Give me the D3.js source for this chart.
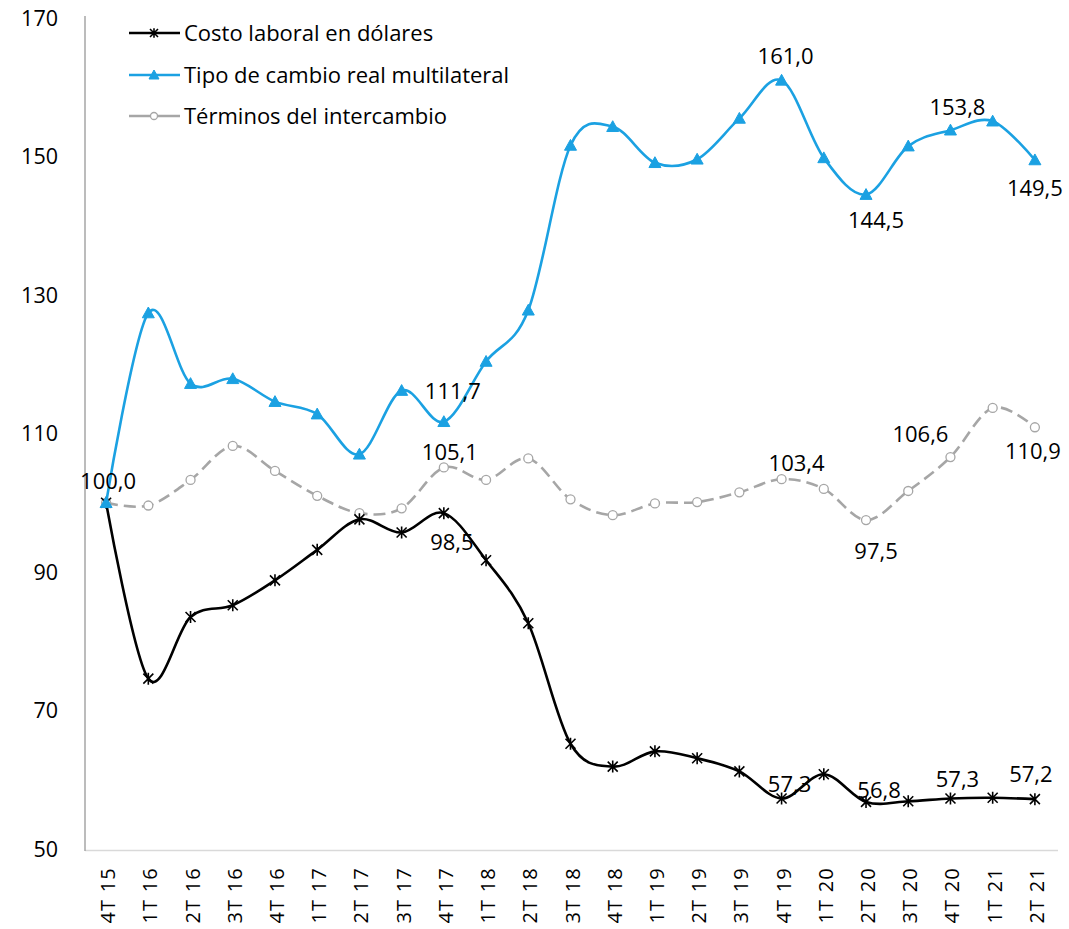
<!DOCTYPE html>
<html lang="es">
<head>
<meta charset="UTF-8">
<title>Costo laboral, tipo de cambio real y términos del intercambio</title>
<script src="https://d3js.org/d3.v7.min.js"></script>
<style>
  body { margin: 0; padding: 0; background: #fff; }
  svg { display: block; font-family: "Open Sans", Lato, sans-serif; }
  .tick-y { font-size: 21.5px; fill: #000; }
  .tick-x { font-size: 20px; fill: #000; letter-spacing: 1.2px; }
  .lbl { font-size: 22px; fill: #000; }
  .legend text { font-size: 22px; fill: #000; }
</style>
</head>
<body>
<svg width="1069" height="929"></svg>
<script>
const width = 1069, height = 929;

// trimestres
const quarters = ["4T 15", "1T 16", "2T 16", "3T 16", "4T 16", "1T 17", "2T 17", "3T 17", "4T 17",
  "1T 18", "2T 18", "3T 18", "4T 18", "1T 19", "2T 19", "3T 19", "4T 19",
  "1T 20", "2T 20", "3T 20", "4T 20", "1T 21", "2T 21"];

// series (índice 4T15 = 100)
const costoLaboral = [100.0, 74.6, 83.5, 85.2, 88.8, 93.2, 97.6, 95.7, 98.5,
  91.7, 82.6, 65.2, 61.9, 64.1, 63.1, 61.2, 57.3,
  60.8, 56.8, 56.9, 57.3, 57.4, 57.2];
const tipoCambio = [100.0, 127.4, 117.2, 117.9, 114.6, 112.8, 107.0, 116.2, 111.7,
  120.4, 127.8, 151.6, 154.3, 149.1, 149.6, 155.5, 161.0,
  149.8, 144.5, 151.5, 153.8, 155.1, 149.5];
const terminos = [100.0, 99.6, 103.3, 108.2, 104.6, 101.0, 98.5, 99.2, 105.1,
  103.3, 106.4, 100.5, 98.2, 99.9, 100.1, 101.5, 103.4,
  102.0, 97.5, 101.7, 106.6, 113.7, 110.9];

const yTicks = [50, 70, 90, 110, 130, 150, 170];

const seriesNames = ["Costo laboral en dólares", "Tipo de cambio real multilateral", "Términos del intercambio"];

// puntos con etiqueta de datos (índices)
const labelsCosto = [8, 16, 18, 20, 22];
const labelsCambio = [8, 16, 18, 20, 22];
const labelsTerminos = [0, 8, 16, 18, 20, 22];

// desplazamiento de etiquetas (dx, dy) respecto del punto
const offCosto = [[8, 29], [8, -14], [13, -12], [7, -19], [-4, -25]];
const offCambio = [[9, -30], [4, -24], [10, 26], [7, -23], [0, 28]];
const offTerminos = [[2, -21], [6, -15], [15, -16], [10, 31], [-30, -23], [-2, 24]];

const es = d3.formatLocale({decimal: ",", thousands: ".", grouping: [3], currency: ["$", ""]});
const fmt = es.format(".1f");

const svg = d3.select("svg");

const x = d3.scalePoint().domain(quarters).range([85, 1056]).padding(0.5);
const y = d3.scaleLinear().domain([50, 170]).range([849, 18]);

// ejes
svg.append("line")
  .attr("x1", 85).attr("x2", 1058)
  .attr("y1", y(50) + 1.5).attr("y2", y(50) + 1.5)
  .attr("stroke", "#d9d9d9").attr("stroke-width", 1.5);
svg.append("line")
  .attr("x1", 85).attr("x2", 85)
  .attr("y1", y(170) - 2).attr("y2", y(50) + 2)
  .attr("stroke", "#a6a6a6").attr("stroke-width", 1.5);

svg.append("g").selectAll("text")
  .data(yTicks)
  .join("text")
  .attr("class", "tick-y")
  .attr("x", 58)
  .attr("y", d => y(d))
  .attr("dy", "0.35em")
  .attr("text-anchor", "end")
  .text(d => d);

svg.append("g").selectAll("text")
  .data(quarters)
  .join("text")
  .attr("class", "tick-x")
  .attr("transform", d => `translate(${x(d) + 2},867) rotate(-90)`)
  .attr("dy", "0.35em")
  .attr("text-anchor", "end")
  .text(d => d);

const line = d3.line()
  .x((d, i) => x(quarters[i]))
  .y(d => y(d))
  .curve(d3.curveCatmullRom.alpha(0));

const blue = "#1ba1e2", grey = "#a6a6a6";

// marcadores
function star(g, s) {
  g.append("path")
    .attr("d", `M${-s},${-s}L${s},${s}M${-s},${s}L${s},${-s}M0,${-s * 1.2}L0,${s * 1.2}`)
    .attr("stroke", "#000").attr("stroke-width", 1.6).attr("fill", "none");
}
function tri(g, s) {
  g.append("path")
    .attr("d", `M0,${-s}L${s},${s * 0.8}L${-s},${s * 0.8}Z`)
    .attr("fill", blue).attr("stroke", blue).attr("stroke-width", 1);
}
function circ(g, s) {
  g.append("circle").attr("r", s)
    .attr("fill", "#fff").attr("stroke", grey).attr("stroke-width", 1.3);
}

const series = [
  {vals: terminos, color: grey, dash: "12,6", marker: circ, size: 4.5, labels: labelsTerminos, off: offTerminos},
  {vals: costoLaboral, color: "#000", dash: null, marker: star, size: 5, labels: labelsCosto, off: offCosto},
  {vals: tipoCambio, color: blue, dash: null, marker: tri, size: 6, labels: labelsCambio, off: offCambio}
];

series.forEach(s => {
  svg.append("path")
    .attr("d", line(s.vals))
    .attr("fill", "none")
    .attr("stroke", s.color)
    .attr("stroke-width", 2.6)
    .attr("stroke-dasharray", s.dash);
  s.vals.forEach((v, i) => {
    const g = svg.append("g").attr("transform", `translate(${x(quarters[i])},${y(v)})`);
    s.marker(g, s.size);
  });
});

series.forEach(s => {
  s.labels.forEach((i, k) => {
    svg.append("text")
      .attr("class", "lbl")
      .attr("x", x(quarters[i]) + s.off[k][0])
      .attr("y", y(s.vals[i]) + s.off[k][1])
      .attr("dy", "0.35em")
      .attr("text-anchor", "middle")
      .text(fmt(s.vals[i]));
  });
});

// leyenda
const legend = svg.append("g").attr("class", "legend");
const legendItems = [
  {name: seriesNames[0], color: "#000", dash: null, marker: star, size: 4},
  {name: seriesNames[1], color: blue, dash: null, marker: tri, size: 5},
  {name: seriesNames[2], color: grey, dash: null, marker: circ, size: 3.5}
];
const legendY = [33, 75, 116];
legendItems.forEach((d, i) => {
  const row = legend.append("g").attr("transform", `translate(0,${legendY[i]})`);
  row.append("line")
    .attr("x1", 129).attr("x2", 180)
    .attr("stroke", d.color).attr("stroke-width", 2.6);
  const m = row.append("g").attr("transform", "translate(154,0)");
  d.marker(m, d.size);
  row.append("text")
    .attr("x", 184).attr("dy", "0.35em")
    .text(d.name);
});
</script>
</body>
</html>
